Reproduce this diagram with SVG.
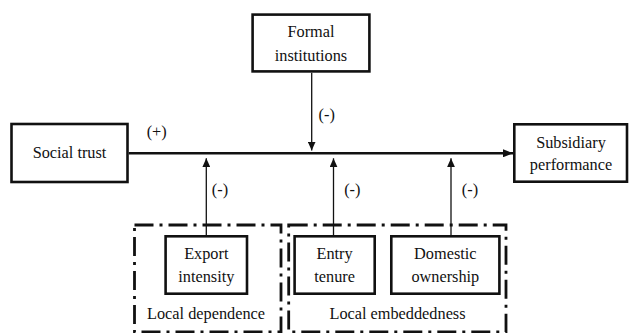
<svg xmlns="http://www.w3.org/2000/svg" width="629" height="333" viewBox="0 0 629 333">
<style>
  .box { fill: #fff; stroke: #111; stroke-width: 2.6; }
  .grp { fill: none; stroke: #111; stroke-width: 2.8; stroke-dasharray: 19 6 3 6; }
  .t { font-family: "Liberation Serif", "Times New Roman", Times, Tinos, "Noto Serif", "DejaVu Serif", FreeSerif, serif; font-size: 16.3px; fill: #111; text-anchor: middle; }
  .main { stroke: #111; stroke-width: 2.6; fill: none; }
  .mod { stroke: #111; stroke-width: 1.3; fill: none; }
</style>
<defs>
  <marker id="headMain" viewBox="0 0 10 8" refX="10" refY="4" markerWidth="10" markerHeight="8" markerUnits="userSpaceOnUse" orient="auto">
    <path d="M0,0 L10,4 L0,8 Z" fill="#111"/>
  </marker>
  <marker id="headMod" viewBox="0 0 9 8" refX="9" refY="4" markerWidth="9" markerHeight="8" markerUnits="userSpaceOnUse" orient="auto">
    <path d="M0,0 L9,4 L0,8 Z" fill="#111"/>
  </marker>
</defs>
<rect width="629" height="333" fill="#fff"/>

<g id="group-local-dependence">
  <rect class="grp" x="134.5" y="225" width="146.5" height="107"/>
  <text class="t" x="206" y="319.3">Local dependence</text>
</g>
<g id="group-local-embeddedness">
  <rect class="grp" x="288.7" y="225" width="217.3" height="107"/>
  <text class="t" x="397.5" y="319.3">Local embeddedness</text>
</g>

<g id="connectors">
  <line class="main" x1="128.7" y1="153.3" x2="513" y2="153.3" marker-end="url(#headMain)"/>
  <line class="mod" x1="311.7" y1="72.7" x2="311.7" y2="150.5" marker-end="url(#headMod)"/>
  <line class="mod" x1="206.3" y1="235" x2="206.3" y2="158.3" marker-end="url(#headMod)"/>
  <line class="mod" x1="333.5" y1="235" x2="333.5" y2="158.3" marker-end="url(#headMod)"/>
  <line class="mod" x1="451" y1="235" x2="451" y2="158.3" marker-end="url(#headMod)"/>
  <text class="t" x="156.7" y="137.3">(+)</text>
  <text class="t" x="326.7" y="120">(-)</text>
  <text class="t" x="220" y="195">(-)</text>
  <text class="t" x="352.3" y="195">(-)</text>
  <text class="t" x="470" y="195">(-)</text>
</g>

<g id="node-social-trust">
  <rect class="box" x="11.5" y="124" width="116" height="58"/>
  <text class="t" x="69.5" y="158.3">Social trust</text>
</g>
<g id="node-formal-institutions">
  <rect class="box" x="252.6" y="14.6" width="116.8" height="56.8"/>
  <text class="t" x="311" y="36.8">Formal</text>
  <text class="t" x="311" y="60.7">institutions</text>
</g>
<g id="node-subsidiary-performance">
  <rect class="box" x="514.3" y="124.3" width="112.7" height="57.4"/>
  <text class="t" x="571" y="148.3">Subsidiary</text>
  <text class="t" x="571" y="170">performance</text>
</g>
<g id="node-export-intensity">
  <rect class="box" x="165.6" y="236.3" width="81.4" height="57.4"/>
  <text class="t" x="206.3" y="259">Export</text>
  <text class="t" x="206.3" y="282">intensity</text>
</g>
<g id="node-entry-tenure">
  <rect class="box" x="294.6" y="236.3" width="80.1" height="57.4"/>
  <text class="t" x="334.6" y="259">Entry</text>
  <text class="t" x="334.6" y="282">tenure</text>
</g>
<g id="node-domestic-ownership">
  <rect class="box" x="391.3" y="236.3" width="108.1" height="57.4"/>
  <text class="t" x="445.3" y="259">Domestic</text>
  <text class="t" x="445.3" y="282">ownership</text>
</g>
</svg>
